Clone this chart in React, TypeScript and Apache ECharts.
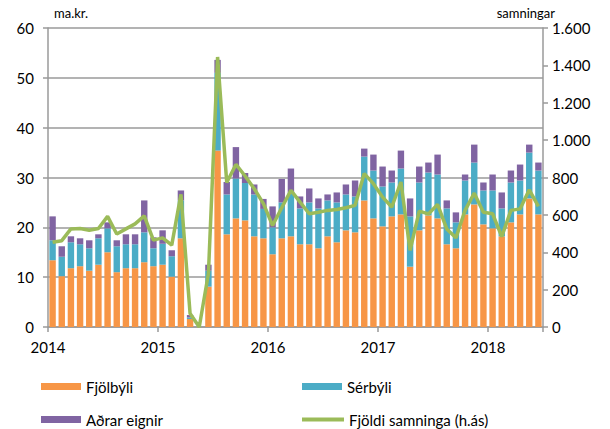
import React, { useEffect, useRef } from "react";
import * as echarts from "echarts";

const months: string[] = [];
for (let y = 2014; y <= 2018; y++) {
  for (let m = 1; m <= 12; m++) {
    if (y === 2018 && m > 6) break;
    months.push(`${y}-${String(m).padStart(2, "0")}`);
  }
}

const fjolbyli = [
  13.4, 10.2, 11.8, 12.2, 11.3, 12.5, 15.0, 11.0, 11.8, 11.8, 13.0, 12.2,
  12.5, 10.1, 17.8, 1.6, 0, 8.1, 35.4, 18.6, 21.8, 21.4, 18.2, 17.8,
  14.6, 17.8, 18.2, 16.6, 16.6, 15.8, 18.2, 17.0, 19.4, 19.0, 25.4, 21.8,
  20.2, 22.2, 22.6, 12.1, 19.4, 22.4, 21.8, 16.6, 15.8, 22.6, 24.6, 20.6,
  19.8, 18.2, 21.0, 22.6, 25.8, 22.6,
];
const serbyli = [
  4.0, 3.9, 5.2, 4.4, 4.5, 5.3, 4.8, 5.2, 4.8, 4.8, 6.0, 3.6,
  4.2, 4.1, 7.6, 0.3, 0, 3.2, 15.6, 8.0, 8.0, 7.5, 8.4, 5.9,
  5.4, 7.2, 8.8, 7.2, 8.4, 8.0, 7.2, 8.0, 7.2, 7.2, 8.8, 9.6,
  8.0, 6.8, 9.2, 10.1, 9.6, 8.6, 8.8, 7.2, 5.2, 6.8, 8.4, 6.8,
  7.6, 5.6, 8.0, 6.8, 9.2, 8.8,
];
const adrar = [
  4.8, 2.1, 1.2, 1.2, 1.6, 0.8, 1.2, 1.2, 2.0, 2.0, 6.4, 2.2,
  2.7, 1.2, 2.0, 0.5, 0, 1.2, 2.6, 2.5, 6.3, 2.0, 2.0, 2.0,
  4.2, 4.7, 4.8, 2.4, 2.8, 2.0, 1.2, 2.0, 2.0, 3.2, 1.6, 3.2,
  4.0, 2.4, 3.6, 3.6, 3.2, 2.0, 4.0, 1.6, 2.0, 1.2, 3.6, 1.6,
  3.2, 3.2, 2.4, 3.2, 1.6, 1.6,
];
const fjoldi = [
  453, 462, 525, 527, 518, 527, 592, 498, 525, 552, 595, 465,
  477, 438, 710, 72, 0, 286, 1445, 773, 870, 808, 740, 660,
  543, 638, 731, 668, 606, 614, 624, 629, 638, 651, 821, 767,
  695, 642, 776, 410, 620, 605, 656, 525, 477, 624, 716, 614,
  606, 484, 624, 632, 734, 645,
];

const leftTicks = { min: 0, max: 60, interval: 10 };
const rightTicks = { min: 0, max: 1600, interval: 200 };
const yearStart = 2014;

const FONT = "Lato";
const GRAY = "#9a9a9a";

export default function App() {
  const ref = useRef<HTMLDivElement>(null);
  useEffect(() => {
    if (!ref.current) return;
    const chart = echarts.init(ref.current, undefined, { renderer: "svg" });
    const legendText = { fontFamily: FONT, fontSize: 15, color: "#000" };
    chart.setOption({
      animation: false,
      textStyle: { fontFamily: FONT },
      grid: { left: 48, right: 67, top: 28, bottom: 102, containLabel: false },
      legend: [
        { data: [{ name: "Fjölbýli", icon: "rect" }], left: 36, top: 374, itemWidth: 40, itemHeight: 7, textStyle: legendText },
        { data: [{ name: "Sérbýli", icon: "rect" }], left: 297, top: 374, itemWidth: 40, itemHeight: 7, textStyle: legendText },
        { data: [{ name: "Aðrar eignir", icon: "rect" }], left: 36, top: 407, itemWidth: 40, itemHeight: 7, textStyle: legendText },
        {
          data: [{ name: "Fjöldi samninga (h.ás)", icon: "rect", itemStyle: { color: "#9BBB59" } }],
          left: 297, top: 407, itemWidth: 42, itemHeight: 4, textStyle: legendText,
        },
      ],
      xAxis: [
        {
          type: "category",
          data: months,
          boundaryGap: true,
          axisLine: { show: true, lineStyle: { color: GRAY, width: 1.5 } },
          axisTick: { show: false },
          axisLabel: { show: false },
        },
        {
          type: "value",
          position: "bottom",
          min: 0,
          max: months.length,
          interval: 12,
          axisLine: { show: false },
          axisTick: { show: true, length: 5, lineStyle: { color: GRAY, width: 1.5 } },
          splitLine: { show: false },
          axisLabel: {
            fontFamily: FONT,
            fontSize: 15,
            color: "#000",
            margin: 12,
            formatter: (v: number) => (v % 12 === 0 && v < months.length ? String(yearStart + v / 12) : ""),
          },
        },
      ],
      yAxis: [
        {
          type: "value",
          ...leftTicks,
          name: "ma.kr.",
          nameLocation: "end",
          nameGap: 9,
          nameTextStyle: { fontFamily: FONT, fontSize: 13, color: "#000", align: "left", padding: [0, 0, 0, 6] },
          axisLine: { show: true, lineStyle: { color: GRAY, width: 1.5 } },
          axisTick: { show: true, length: 5, lineStyle: { color: GRAY, width: 1.5 } },
          splitLine: { show: true, lineStyle: { color: GRAY, width: 1.5 } },
          axisLabel: { fontFamily: FONT, fontSize: 15, color: "#000", margin: 14 },
        },
        {
          type: "value",
          ...rightTicks,
          name: "samningar",
          nameLocation: "end",
          nameGap: 9,
          nameTextStyle: { fontFamily: FONT, fontSize: 13, color: "#000", align: "right", padding: [0, -12, 0, 0] },
          axisLine: { show: true, lineStyle: { color: GRAY, width: 1.5 } },
          axisTick: { show: true, length: 5, lineStyle: { color: GRAY, width: 1.5 } },
          splitLine: { show: false },
          axisLabel: {
            fontFamily: FONT,
            fontSize: 15,
            color: "#000",
            margin: 9,
            formatter: (v: number) => v.toLocaleString("de-DE"),
          },
        },
      ],
      series: [
        { name: "Fjölbýli", type: "bar", stack: "a", data: fjolbyli, itemStyle: { color: "#F79646" }, barCategoryGap: "30%", xAxisIndex: 0, yAxisIndex: 0 },
        { name: "Sérbýli", type: "bar", stack: "a", data: serbyli, itemStyle: { color: "#4BACC6" }, xAxisIndex: 0, yAxisIndex: 0 },
        { name: "Aðrar eignir", type: "bar", stack: "a", data: adrar, itemStyle: { color: "#8064A2" }, xAxisIndex: 0, yAxisIndex: 0 },
        {
          name: "Fjöldi samninga (h.ás)",
          type: "line",
          data: fjoldi,
          xAxisIndex: 0,
          yAxisIndex: 1,
          showSymbol: false,
          symbol: "none",
          lineStyle: { color: "#9BBB59", width: 3.5 },
          itemStyle: { color: "#9BBB59" },
        },
      ],
    });
    return () => chart.dispose();
  }, []);
  return <div ref={ref} style={{ width: 610, height: 429, position: "absolute", left: 0, top: 0, background: "#fff" }} />;
}
